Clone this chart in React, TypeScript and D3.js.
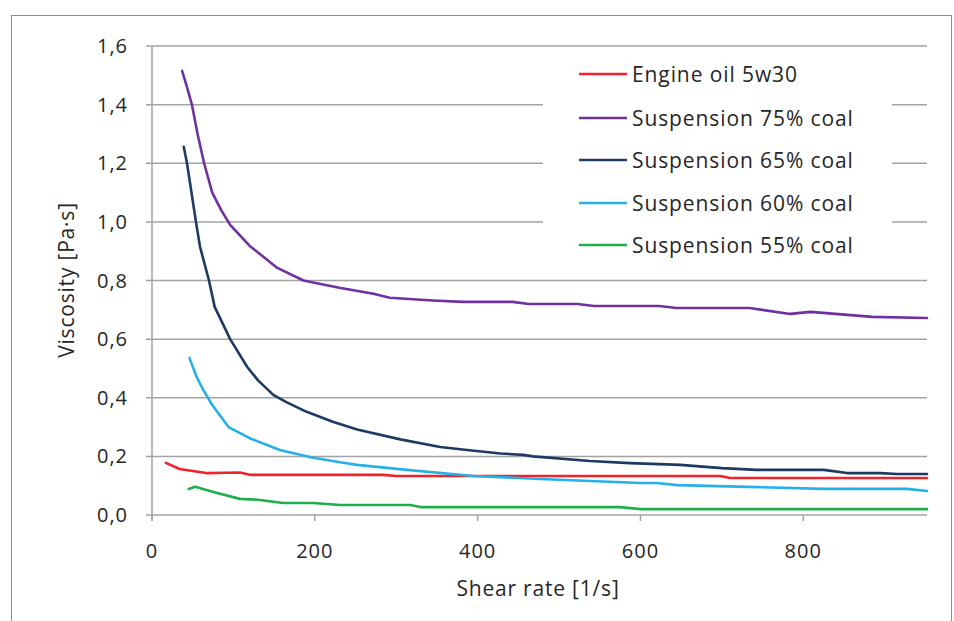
import * as d3 from 'd3';
import React from 'react';

// series names + colours (legend order)
const seriesNames = ['Engine oil 5w30', 'Suspension 75% coal', 'Suspension 65% coal', 'Suspension 60% coal', 'Suspension 55% coal'];
const seriesColors = ['#f0232b', '#7030a0', '#1c3a63', '#25b0ea', '#1fae4c'];

// shear rate [1/s] / viscosity [Pa·s]
const oilX = [17, 34, 50, 67, 90, 108, 120, 150, 200, 250, 284, 300, 400, 500, 600, 698, 710, 800, 900, 952];
const oilY = [0.178, 0.157, 0.15, 0.143, 0.144, 0.145, 0.137, 0.137, 0.137, 0.137, 0.137, 0.133, 0.133, 0.133, 0.133, 0.133, 0.126, 0.126, 0.126, 0.126];

const s75X = [37, 43, 49, 56, 64, 74, 85, 96, 120, 154, 186, 230, 272, 292, 345, 382, 443, 463, 523, 543, 623, 644, 734, 784, 809, 885, 952];
const s75Y = [1.515, 1.46, 1.4, 1.3, 1.2, 1.1, 1.04, 0.99, 0.918, 0.843, 0.8, 0.775, 0.755, 0.741, 0.732, 0.727, 0.727, 0.72, 0.72, 0.713, 0.713, 0.706, 0.706, 0.686, 0.693, 0.676, 0.672];

const s65X = [39, 43, 54, 59, 70, 77, 96, 117, 130, 149, 165, 190, 222, 252, 305, 354, 387, 428, 456, 468, 538, 587, 649, 700, 743, 825, 854, 895, 915, 952];
const s65Y = [1.256, 1.2, 1.0, 0.915, 0.8, 0.71, 0.6, 0.505, 0.46, 0.41, 0.385, 0.352, 0.318, 0.292, 0.258, 0.232, 0.222, 0.21, 0.205, 0.2, 0.184, 0.177, 0.171, 0.16, 0.154, 0.154, 0.143, 0.143, 0.14, 0.14];

const s60X = [46, 55, 63, 74, 94, 120, 157, 198, 231, 252, 313, 395, 477, 600, 620, 645, 731, 825, 928, 952];
const s60Y = [0.536, 0.47, 0.427, 0.375, 0.3, 0.262, 0.222, 0.195, 0.18, 0.171, 0.154, 0.133, 0.123, 0.109, 0.109, 0.102, 0.096, 0.089, 0.089, 0.082];

const s55X = [45, 53, 80, 108, 130, 161, 198, 231, 317, 330, 575, 600, 952];
const s55Y = [0.089, 0.096, 0.075, 0.055, 0.052, 0.041, 0.041, 0.034, 0.034, 0.027, 0.027, 0.02, 0.02];

const xTicks = [0, 200, 400, 600, 800];
const yTicks = [0, 0.2, 0.4, 0.6, 0.8, 1.0, 1.2, 1.4, 1.6];

const W = 954;
const H = 621;
const font = '"Open Sans", sans-serif';
const gridColor = '#a3a3a3';
const textColor = '#262626';

export default function App() {
  const x = d3.scaleLinear().domain([0, 952]).range([152, 927]);
  const y = d3.scaleLinear().domain([0, 1.6]).range([515, 46]);

  const allX = [oilX, s75X, s65X, s60X, s55X];
  const allY = [oilY, s75Y, s65Y, s60Y, s55Y];

  const line = d3.line<[number, number]>()
    .x(d => x(d[0]))
    .y(d => y(d[1]));

  const fmt = (v: number) => d3.format('.1f')(v).replace('.', ',');

  const legendX = 579;
  const legendRows = [74, 118, 160, 203, 245];

  return (
    <svg width={W} height={H} style={{ position: 'absolute', left: 0, top: 0, background: '#fff' }}>
      <rect x={11.5} y={15.5} width={940} height={620} fill="#fff" stroke="#8c8c8c" strokeWidth={1} />

      {/* gridlines + y tick labels */}
      {yTicks.map(t => (
        <g key={t}>
          <line x1={146} x2={927} y1={y(t)} y2={y(t)} stroke={gridColor} strokeWidth={1.5} />
          <text x={128} y={y(t) + 7} textAnchor="end" fontFamily={font} fontSize={20} letterSpacing={1} fill={textColor}>{fmt(t)}</text>
        </g>
      ))}

      {/* y axis */}
      <line x1={x(0)} x2={x(0)} y1={y(1.6)} y2={521} stroke={gridColor} strokeWidth={1.5} />

      {/* x ticks */}
      {xTicks.map(t => (
        <g key={t}>
          <line x1={x(t)} x2={x(t)} y1={515} y2={521} stroke={gridColor} strokeWidth={1.5} />
          <text x={x(t)} y={558} textAnchor="middle" fontFamily={font} fontSize={20} letterSpacing={1} fill={textColor}>{t}</text>
        </g>
      ))}

      {/* series */}
      {allX.map((xs, i) => (
        <path key={i}
          d={line(xs.map((v, j) => [v, allY[i][j]] as [number, number])) || ''}
          fill="none" stroke={seriesColors[i]} strokeWidth={2.6} strokeLinejoin="round" strokeLinecap="round" />
      ))}

      {/* legend */}
      <rect x={543} y={52} width={349} height={216} fill="#fff" />
      {seriesNames.map((n, i) => (
        <g key={n}>
          <line x1={legendX} x2={legendX + 48} y1={legendRows[i]} y2={legendRows[i]} stroke={seriesColors[i]} strokeWidth={2.6} />
          <text x={632} y={legendRows[i] + 8} fontFamily={font} fontSize={21} letterSpacing={0.9} fill={textColor}>{n}</text>
        </g>
      ))}

      {/* axis titles */}
      <text x={538} y={596} textAnchor="middle" fontFamily={font} fontSize={21} letterSpacing={0.8} fill={textColor}>Shear rate [1/s]</text>
      <text transform={`translate(74,280) rotate(-90)`} textAnchor="middle" fontFamily={font} fontSize={21} letterSpacing={0.8} fill={textColor}>Viscosity [Pa·s]</text>
    </svg>
  );
}
